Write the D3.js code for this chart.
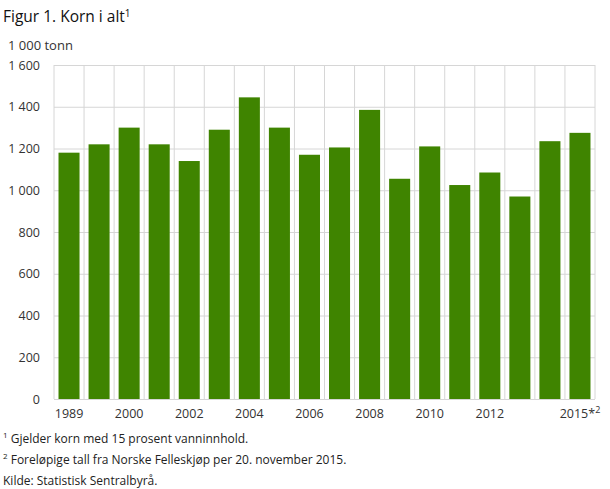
<!DOCTYPE html>
<html>
<head>
<meta charset="utf-8">
<script src="https://cdn.jsdelivr.net/npm/d3@7"></script>
<style>
  body { margin: 0; background: #fff; }
  svg { font-family: "Open Sans", sans-serif; }
</style>
</head>
<body>
<div id="wrapper"></div>
<script>
const years = ["1989","1999","2000","2001","2002","2003","2004","2005","2006","2007","2008","2009","2010","2011","2012","2013","2014","2015"];
const values = [1180,1220,1300,1220,1140,1290,1445,1300,1170,1205,1385,1055,1210,1025,1085,970,1235,1275];
const shownYears = ["1989","2000","2002","2004","2006","2008","2010","2012","2015"];
const yTicks = [0,200,400,600,800,1000,1200,1400,1600];
const footnotes = [
  ["1", "Gjelder korn med 15 prosent vanninnhold."],
  ["2", "Foreløpige tall fra Norske Felleskjøp per 20. november 2015."],
  ["", "Kilde: Statistisk Sentralbyrå."]
];

let dimensions = {
  width: 610,
  height: 489,
  margin: { top: 65, left: 54, right: 15, bottom: 90 }
}
dimensions.boundedWidth = dimensions.width - dimensions.margin.left - dimensions.margin.right;
dimensions.boundedHeight = 399 - dimensions.margin.top;

const svg = d3.select("#wrapper").append("svg")
  .attr("width", dimensions.width)
  .attr("height", dimensions.height);

svg.append("text")
  .attr("x", 3).attr("y", 22)
  .attr("font-size", 15.5).attr("fill", "#111")
  .text("Figur 1. Korn i alt")
  .append("tspan").attr("font-size", 10).attr("dy", -5).text("1");

svg.append("text")
  .attr("x", 8).attr("y", 50)
  .attr("font-size", 13).attr("fill", "#333")
  .text("1 000 tonn");

const g = svg.append("g")
  .attr("transform", `translate(${dimensions.margin.left},${dimensions.margin.top})`);

const xScale = d3.scaleBand()
  .domain(years)
  .range([0, dimensions.boundedWidth])
  .paddingInner(0.3)
  .paddingOuter(0.15);

const yScale = d3.scaleLinear()
  .domain([0, 1600])
  .range([dimensions.boundedHeight, 0]);

const fmt = d => d3.format(",")(d).replace(/,/g, " ");

// horizontal gridlines + labels
const yAxis = g.append("g")
  .call(d3.axisLeft(yScale).tickValues(yTicks).tickSize(-dimensions.boundedWidth).tickFormat(fmt).tickPadding(14));
yAxis.select(".domain").remove();
yAxis.selectAll("line").attr("stroke", "#d6d6d6");
yAxis.selectAll("text").attr("font-size", 12.5).attr("fill", "#333").attr("font-family", "Open Sans, sans-serif");

// vertical gridlines at band edges
const step = xScale.step();
g.append("g").selectAll("line")
  .data(d3.range(years.length + 1))
  .enter().append("line")
  .attr("x1", i => i * step).attr("x2", i => i * step)
  .attr("y1", 0).attr("y2", dimensions.boundedHeight)
  .attr("stroke", "#d6d6d6");

g.selectAll("rect")
  .data(values)
  .enter().append("rect")
  .attr("x", (d, i) => xScale(years[i]))
  .attr("width", xScale.bandwidth())
  .attr("y", d => yScale(d))
  .attr("height", d => dimensions.boundedHeight - yScale(d))
  .attr("fill", "#3f8400");

const xAxis = g.append("g")
  .attr("transform", `translate(0,${dimensions.boundedHeight})`)
  .call(d3.axisBottom(xScale).tickValues(shownYears).tickSize(0).tickPadding(10));
xAxis.select(".domain").remove();
xAxis.selectAll("text").attr("font-size", 12.5).attr("fill", "#333").attr("font-family", "Open Sans, sans-serif");
xAxis.selectAll(".tick").filter(d => d === "2015").select("text")
  .text("2015*")
  .append("tspan").attr("font-size", 9).attr("dy", -5).text("2");

const notes = svg.append("g");
footnotes.forEach((f, i) => {
  const t = notes.append("text")
    .attr("x", 3).attr("y", 443 + i * 21)
    .attr("font-size", 12).attr("fill", "#222");
  if (f[0]) t.append("tspan").attr("font-size", 8).attr("dy", -5).text(f[0]);
  t.append("tspan").attr("dy", f[0] ? 5 : 0).text((f[0] ? " " : "") + f[1]);
});
</script>
</body>
</html>
